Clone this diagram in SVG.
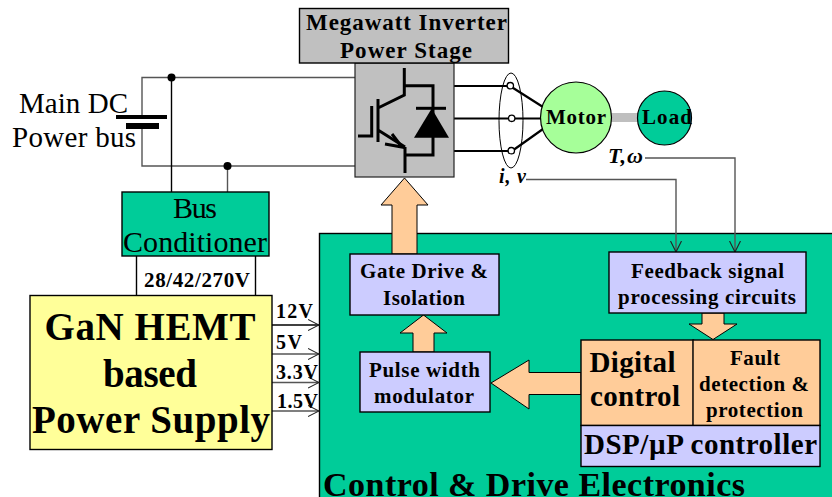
<svg xmlns="http://www.w3.org/2000/svg" width="832" height="497" viewBox="0 0 832 497">
<style>
text{font-family:"Liberation Serif","Times New Roman",serif;text-anchor:middle;fill:#000}
.b{font-weight:700}
.i{font-style:italic}
.s{text-anchor:start}
.box{stroke:#000;stroke-width:1.4}
.blue{fill:#ccccff}
.or{fill:#ffcc99;stroke:#000;stroke-width:1}
.wire{fill:none;stroke:#555;stroke-width:1.4}
.blk{fill:none;stroke:#000;stroke-width:1.4}
.th{fill:none;stroke:#000;stroke-width:2.2}
.sw{fill:none;stroke:#000;stroke-width:3}
</style>
<defs>
<marker id="a" markerUnits="userSpaceOnUse" markerWidth="12" markerHeight="12" refX="11" refY="6" orient="auto"><path d="M0 .5L11 6L0 11.5" fill="none" stroke="#222" stroke-width="1.1"/></marker>
</defs>
<rect width="832" height="497" fill="#fff"/>
<g id="control-drive"><rect class="box" x="319.500" y="233.500" width="520" height="270" fill="#00cc99"/><text class="b" x="534" y="496" font-size="34" textLength="422">Control &amp; Drive Electronics</text></g>
<g id="connectors">
<path class="wire" d="M355 77.500H142V117M142 126V166H355"/>
<path class="blk" d="M171.500 77.500V192"/>
<path class="wire" d="M227.500 166V192"/>
<circle cx="171.500" cy="77.500" r="4"/><circle cx="227.500" cy="166" r="4"/>
<path d="M116 117H167" stroke="#000" stroke-width="4"/><path d="M126 126H159" stroke="#000" stroke-width="6"/>
<path class="blk" d="M136.500 256V295M255.500 256V295"/>
<path class="th" d="M454 86H510M452 118.500H541M454 151H510"/>
<path class="th" d="M510 86L543 107M512 151L543 129"/>
<ellipse cx="511" cy="120.500" rx="12" ry="47.500" fill="none" stroke="#000" stroke-width="1"/>
<circle cx="510.300" cy="85.700" r="3.200" fill="#fff" stroke="#000" stroke-width="1.300"/>
<circle cx="511.700" cy="118.300" r="3.200" fill="#fff" stroke="#000" stroke-width="1.300"/>
<circle cx="511.300" cy="150.700" r="3.200" fill="#fff" stroke="#000" stroke-width="1.300"/>
<path d="M610 117.500H640" stroke="#bfbfbf" stroke-width="9"/>
<path class="wire" d="M526 179.500H676V252" marker-end="url(#a)"/>
<path class="wire" d="M645 158H735V252" marker-end="url(#a)"/>
<path class="blk" d="M272 325H319" marker-end="url(#a)"/>
<path class="wire" d="M272 354H319" marker-end="url(#a)"/>
<path class="wire" d="M272 382.500H319" marker-end="url(#a)"/>
<path class="wire" d="M272 411H319" marker-end="url(#a)"/>
<path class="or" d="M392 254V205H381L404.500 178L428 205H417V254Z"/>
<path class="or" d="M413 352V333H400L423.500 315L447 333H434V352Z"/>
<path class="or" d="M702 313V324H689L713 339.500L737 324H724V313Z"/>
<path class="or" d="M581 372.500H529V360L491 383L529 409V394.500H581Z"/>
</g>
<g id="inverter"><rect x="355" y="63" width="99" height="114" fill="#c0c0c0" stroke="#222" stroke-width="1.200"/>
<path class="sw" d="M404.300 68V95L378 108M404.300 85.700H433V155H405M405 147V173M378 130L405 147M378 99V142"/>
<path class="sw" d="M371.700 106V136H358M392 134L402 147L385 144"/>
<path d="M416 108.300H446" stroke="#000" stroke-width="3"/><path d="M431.700 108.500L449 137.700H414Z"/>
</g>
<g id="megawatt"><rect class="box" x="299.500" y="8.500" width="209" height="54.500" fill="#c0c0c0"/><text class="b" x="406.500" y="30" font-size="23" textLength="201">Megawatt Inverter</text><text class="b" x="406" y="58" font-size="23" textLength="132">Power Stage</text></g>
<g id="motor"><circle cx="576" cy="117.500" r="35.500" fill="#a6ff99" stroke="#000" stroke-width="1.200"/><text class="b" x="576" y="124" font-size="21" textLength="60">Motor</text></g>
<g id="load"><circle cx="664.500" cy="118" r="27" fill="#00cc99" stroke="#000" stroke-width="1.200"/><text class="b" x="667" y="124" font-size="21" textLength="50">Load</text></g>
<g id="labels"><text x="73.500" y="113" font-size="29" textLength="109">Main DC</text><text x="74" y="147" font-size="29" textLength="124">Power bus</text><text class="b i" x="512.500" y="183" font-size="20" textLength="27">i, v</text><text class="b i" x="625.500" y="163" font-size="22" textLength="35">T,ω</text><text class="b" x="197" y="287" font-size="21" textLength="106">28/42/270V</text><text class="b s" x="276" y="318" font-size="20" textLength="37">12V</text><text class="b s" x="276" y="349" font-size="20" textLength="26">5V</text><text class="b s" x="276" y="379" font-size="20" textLength="42">3.3V</text><text class="b s" x="277" y="408" font-size="20" textLength="41">1.5V</text></g>
<g id="bus-conditioner"><rect class="box" x="122" y="192" width="147" height="64" fill="#00cc99"/><text x="195" y="218" font-size="30" textLength="44">Bus</text><text x="195" y="252" font-size="30" textLength="144">Conditioner</text></g>
<g id="power-supply"><rect class="box" x="30" y="295.500" width="242" height="154" fill="#ffff99"/><text class="b" x="150" y="340" font-size="39" textLength="211">GaN HEMT</text><text class="b" x="150" y="387" font-size="39" textLength="94">based</text><text class="b" x="151" y="433" font-size="39" textLength="238">Power Supply</text></g>
<g id="gate-drive"><rect class="box blue" x="350" y="254" width="149" height="61"/><text class="b" x="424" y="278" font-size="21" textLength="128">Gate Drive &amp;</text><text class="b" x="424" y="305" font-size="21" textLength="82">Isolation</text></g>
<g id="pwm"><rect class="box blue" x="360" y="352" width="130" height="60"/><text class="b" x="424.500" y="376.500" font-size="21" textLength="111">Pulse width</text><text class="b" x="424" y="402.500" font-size="21" textLength="100">modulator</text></g>
<g id="feedback"><rect class="box blue" x="609" y="252" width="197" height="61"/><text class="b" x="707.500" y="278" font-size="21" textLength="153">Feedback signal</text><text class="b" x="707" y="304" font-size="21" textLength="178">processing circuits</text></g>
<g id="digital-control"><rect class="box" x="581" y="340" width="112.500" height="85.500" fill="#ffcc99"/><text class="b" x="632.500" y="372" font-size="29" textLength="86">Digital</text><text class="b" x="635" y="406" font-size="29" textLength="90">control</text></g>
<g id="fault"><rect class="box" x="693" y="340" width="127" height="85.500" fill="#ffcc99"/><text class="b" x="755" y="365" font-size="21" textLength="50">Fault</text><text class="b" x="754" y="391" font-size="21" textLength="110">detection &amp;</text><text class="b" x="754.500" y="417" font-size="21" textLength="97">protection</text></g>
<g id="dsp"><rect class="box blue" x="581" y="425.500" width="239" height="41"/><text class="b" x="700.500" y="453.500" font-size="29" textLength="233">DSP/µP controller</text></g>
</svg>
